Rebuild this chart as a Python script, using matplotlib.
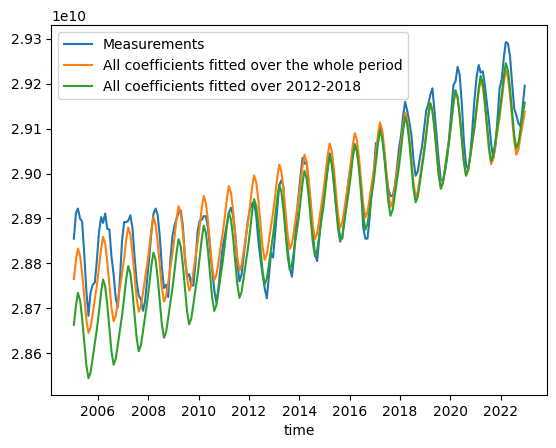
import numpy as np
import pandas as pd
import matplotlib
matplotlib.use("Agg")
import matplotlib.pyplot as plt

# Values in units of 1e10, monthly from Jan 2005 to Dec 2022 (one row per year)
measurements = [
    2.8855, 2.8912, 2.8922, 2.8900, 2.8893, 2.8820, 2.8740, 2.8683, 2.8735, 2.8752, 2.8757, 2.8806,
    2.8870, 2.8903, 2.8890, 2.8911, 2.8877, 2.8875, 2.8815, 2.8775, 2.8722, 2.8702, 2.8765, 2.8850,
    2.8892, 2.8892, 2.8895, 2.8907, 2.8880, 2.8815, 2.8760, 2.8728, 2.8720, 2.8694, 2.8716, 2.8765,
    2.8815, 2.8870, 2.8910, 2.8922, 2.8908, 2.8860, 2.8791, 2.8745, 2.8752, 2.8725, 2.8806, 2.8860,
    2.8885, 2.8900, 2.8912, 2.8918, 2.8885, 2.8810, 2.8770, 2.8776, 2.8752, 2.8750, 2.8800, 2.8870,
    2.8895, 2.8897, 2.8905, 2.8905, 2.8880, 2.8830, 2.8785, 2.8740, 2.8712, 2.8746, 2.8795, 2.8835,
    2.8862, 2.8890, 2.8913, 2.8924, 2.8905, 2.8866, 2.8800, 2.8760, 2.8775, 2.8815, 2.8855, 2.8895,
    2.8920, 2.8933, 2.8937, 2.8905, 2.8851, 2.8810, 2.8776, 2.8745, 2.8722, 2.8770, 2.8823, 2.8813,
    2.8870, 2.8925, 2.8975, 2.8985, 2.8970, 2.8875, 2.8830, 2.8790, 2.8770, 2.8818, 2.8890, 2.8945,
    2.8990, 2.9035, 2.9022, 2.9025, 2.8980, 2.8930, 2.8865, 2.8820, 2.8805, 2.8855, 2.8905, 2.8941,
    2.8975, 2.9012, 2.9045, 2.9030, 2.8980, 2.8930, 2.8890, 2.8858, 2.8855, 2.8895, 2.8940, 2.8986,
    2.9015, 2.9040, 2.9066, 2.9050, 2.9020, 2.8965, 2.8880, 2.8855, 2.8855, 2.8900, 2.8960, 2.9000,
    2.9068, 2.9070, 2.9108, 2.9090, 2.9045, 2.9000, 2.8965, 2.8950, 2.8950, 2.8970, 2.9010, 2.9055,
    2.9085, 2.9130, 2.9160, 2.9140, 2.9115, 2.9085, 2.9030, 2.8995, 2.9005, 2.9035, 2.9060, 2.9100,
    2.9140, 2.9155, 2.9175, 2.9190, 2.9140, 2.9085, 2.9030, 2.8985, 2.8985, 2.9005, 2.9035, 2.9083,
    2.9140, 2.9198, 2.9205, 2.9238, 2.9220, 2.9155, 2.9070, 2.9020, 2.9008, 2.9040, 2.9100, 2.9165,
    2.9215, 2.9242, 2.9225, 2.9228, 2.9197, 2.9155, 2.9115, 2.9065, 2.9035, 2.9062, 2.9122, 2.9190,
    2.9210, 2.9260, 2.9293, 2.9290, 2.9262, 2.9200, 2.9145, 2.9130, 2.9112, 2.9105, 2.9150, 2.9196,
]

fit_whole_period = [
    2.8765, 2.8807, 2.8833, 2.8817, 2.8778, 2.8725, 2.8675, 2.8645, 2.8657, 2.8687, 2.8720, 2.8750,
    2.8791, 2.8833, 2.8859, 2.8843, 2.8804, 2.8751, 2.8701, 2.8671, 2.8683, 2.8713, 2.8746, 2.8776,
    2.8812, 2.8854, 2.8880, 2.8864, 2.8825, 2.8772, 2.8722, 2.8692, 2.8704, 2.8734, 2.8767, 2.8797,
    2.8835, 2.8877, 2.8903, 2.8887, 2.8848, 2.8795, 2.8745, 2.8715, 2.8727, 2.8757, 2.8790, 2.8820,
    2.8859, 2.8901, 2.8927, 2.8911, 2.8872, 2.8819, 2.8769, 2.8739, 2.8751, 2.8781, 2.8814, 2.8844,
    2.8882, 2.8924, 2.8950, 2.8934, 2.8895, 2.8842, 2.8792, 2.8762, 2.8774, 2.8804, 2.8837, 2.8867,
    2.8904, 2.8946, 2.8972, 2.8956, 2.8917, 2.8864, 2.8814, 2.8784, 2.8796, 2.8826, 2.8859, 2.8889,
    2.8928, 2.8970, 2.8996, 2.8980, 2.8941, 2.8888, 2.8838, 2.8808, 2.8820, 2.8850, 2.8883, 2.8913,
    2.8952, 2.8994, 2.9020, 2.9004, 2.8965, 2.8912, 2.8862, 2.8832, 2.8844, 2.8874, 2.8907, 2.8937,
    2.8974, 2.9016, 2.9042, 2.9026, 2.8987, 2.8934, 2.8884, 2.8854, 2.8866, 2.8896, 2.8929, 2.8959,
    2.8999, 2.9041, 2.9067, 2.9051, 2.9012, 2.8959, 2.8909, 2.8879, 2.8891, 2.8921, 2.8954, 2.8984,
    2.9022, 2.9064, 2.9090, 2.9074, 2.9035, 2.8982, 2.8932, 2.8902, 2.8914, 2.8944, 2.8977, 2.9007,
    2.9046, 2.9088, 2.9114, 2.9098, 2.9059, 2.9006, 2.8956, 2.8926, 2.8938, 2.8968, 2.9001, 2.9031,
    2.9068, 2.9110, 2.9136, 2.9120, 2.9081, 2.9028, 2.8978, 2.8948, 2.8960, 2.8990, 2.9023, 2.9053,
    2.9090, 2.9132, 2.9158, 2.9142, 2.9103, 2.9050, 2.9000, 2.8970, 2.8982, 2.9012, 2.9045, 2.9075,
    2.9115, 2.9157, 2.9183, 2.9167, 2.9128, 2.9075, 2.9025, 2.8995, 2.9007, 2.9037, 2.9070, 2.9100,
    2.9141, 2.9183, 2.9209, 2.9193, 2.9154, 2.9101, 2.9051, 2.9021, 2.9033, 2.9063, 2.9096, 2.9126,
    2.9162, 2.9204, 2.9230, 2.9214, 2.9175, 2.9122, 2.9072, 2.9042, 2.9054, 2.9084, 2.9110, 2.9138,
]

fit_2012_2018 = [
    2.8663, 2.8706, 2.8734, 2.8718, 2.8678, 2.8625, 2.8574, 2.8544, 2.8557, 2.8588, 2.8622, 2.8653,
    2.8693, 2.8736, 2.8764, 2.8748, 2.8708, 2.8655, 2.8604, 2.8574, 2.8587, 2.8618, 2.8652, 2.8683,
    2.8723, 2.8766, 2.8794, 2.8778, 2.8738, 2.8685, 2.8634, 2.8604, 2.8617, 2.8648, 2.8682, 2.8713,
    2.8753, 2.8796, 2.8824, 2.8808, 2.8768, 2.8715, 2.8664, 2.8634, 2.8647, 2.8678, 2.8712, 2.8743,
    2.8783, 2.8826, 2.8854, 2.8838, 2.8798, 2.8745, 2.8694, 2.8664, 2.8677, 2.8708, 2.8742, 2.8773,
    2.8813, 2.8856, 2.8884, 2.8868, 2.8828, 2.8775, 2.8724, 2.8694, 2.8707, 2.8738, 2.8772, 2.8803,
    2.8842, 2.8885, 2.8913, 2.8897, 2.8857, 2.8804, 2.8753, 2.8723, 2.8736, 2.8767, 2.8801, 2.8832,
    2.8872, 2.8915, 2.8943, 2.8927, 2.8887, 2.8834, 2.8783, 2.8753, 2.8766, 2.8797, 2.8831, 2.8862,
    2.8904, 2.8947, 2.8975, 2.8959, 2.8919, 2.8866, 2.8815, 2.8785, 2.8798, 2.8829, 2.8863, 2.8894,
    2.8935, 2.8978, 2.9006, 2.8990, 2.8950, 2.8897, 2.8846, 2.8816, 2.8829, 2.8860, 2.8894, 2.8925,
    2.8967, 2.9010, 2.9038, 2.9022, 2.8982, 2.8929, 2.8878, 2.8848, 2.8861, 2.8892, 2.8926, 2.8957,
    2.8994, 2.9037, 2.9065, 2.9049, 2.9009, 2.8956, 2.8905, 2.8875, 2.8888, 2.8919, 2.8953, 2.8984,
    2.9025, 2.9068, 2.9096, 2.9080, 2.9040, 2.8987, 2.8936, 2.8906, 2.8919, 2.8950, 2.8984, 2.9015,
    2.9055, 2.9098, 2.9126, 2.9110, 2.9070, 2.9017, 2.8966, 2.8936, 2.8949, 2.8980, 2.9014, 2.9045,
    2.9085, 2.9128, 2.9156, 2.9140, 2.9100, 2.9047, 2.8996, 2.8966, 2.8979, 2.9010, 2.9044, 2.9075,
    2.9115, 2.9158, 2.9186, 2.9170, 2.9130, 2.9077, 2.9026, 2.8996, 2.9009, 2.9040, 2.9074, 2.9105,
    2.9147, 2.9190, 2.9218, 2.9202, 2.9162, 2.9109, 2.9058, 2.9028, 2.9041, 2.9072, 2.9106, 2.9137,
    2.9175, 2.9218, 2.9246, 2.9230, 2.9190, 2.9137, 2.9086, 2.9056, 2.9069, 2.9100, 2.9134, 2.9158,
]

labels = [
    "Measurements",
    "All coefficients fitted over the whole period",
    "All coefficients fitted over 2012-2018",
]

unit = 1e10
time = pd.date_range("2005-01-01", periods=len(measurements), freq="MS") + pd.Timedelta(days=14)

fig = plt.figure(figsize=(5.56, 4.48), dpi=100)
ax = fig.add_axes([51.3 / 556, (448 - 395) / 448, 496 / 556, 369.7 / 448])

ax.plot(time, np.array(measurements) * unit, color="#1f77b4", label=labels[0])
ax.plot(time, np.array(fit_whole_period) * unit, color="#ff7f0e", label=labels[1])
ax.plot(time, np.array(fit_2012_2018) * unit, color="#2ca02c", label=labels[2])

ax.set_xlabel("time")
ax.legend(loc="upper left")

fig.savefig("out.png", dpi=100)
